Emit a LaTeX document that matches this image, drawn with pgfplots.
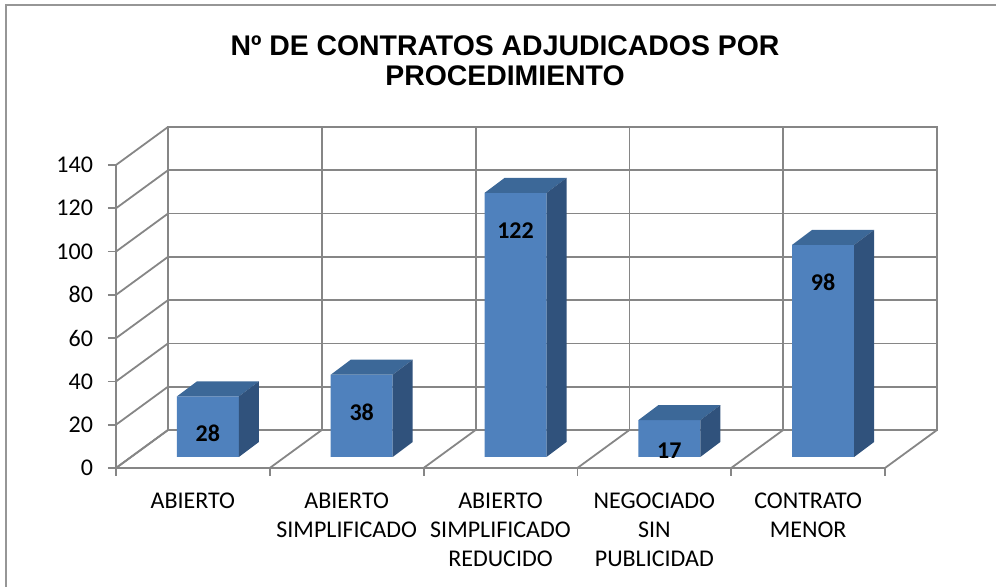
\documentclass[border=0pt]{standalone}
\usepackage{fontspec}
\setmainfont{Carlito}
\newfontfamily\titlefont{Liberation Sans}
\usepackage{pgfplots}
\pgfplotsset{compat=1.18}
\definecolor{barfront}{HTML}{4F81BD}
\definecolor{bartop}{HTML}{3C6898}
\definecolor{barside}{HTML}{30527C}
\definecolor{gridc}{RGB}{134,134,134}
\definecolor{framec}{RGB}{150,150,150}

\pgfdeclareplotmark{cube3d}{%
  \pgfmathsetlengthmacro{\hh}{\barval*1.082143pt}%
  \pgfsetfillcolor{bartop}%
  \pgfpathmoveto{\pgfpoint{-15.5pt}{0pt}}%
  \pgfpathlineto{\pgfpoint{15.5pt}{0pt}}%
  \pgfpathlineto{\pgfpoint{25.5pt}{7.5pt}}%
  \pgfpathlineto{\pgfpoint{-5.5pt}{7.5pt}}%
  \pgfpathclose
  \pgfusepath{fill}%
  \pgfsetfillcolor{barside}%
  \pgfpathmoveto{\pgfpoint{15.5pt}{0pt}}%
  \pgfpathlineto{\pgfpoint{25.5pt}{7.5pt}}%
  \pgfpathlineto{\pgfpoint{25.5pt}{7.5pt-\hh}}%
  \pgfpathlineto{\pgfpoint{15.5pt}{-\hh}}%
  \pgfpathclose
  \pgfusepath{fill}%
}

\pgfplotstableread{
x y
0 28
1 38
2 122
3 17
4 98
}\contratos

\begin{document}
\begin{tikzpicture}
% back wall + side/floor grid
\begin{axis}[at={(84pt,78.5pt)}, anchor=south west, scale only axis,
  width=384.5pt, height=151.5pt,
  xmin=-0.5, xmax=4.5, ymin=0, ymax=140,
  xtick={-0.5,0.5,...,4.5}, ytick={0,20,...,140},
  xticklabels={}, yticklabels={}, major tick length=0pt,
  grid=major, grid style={gridc, line width=0.9pt},
  axis line style={gridc, line width=0.9pt}, clip=false]
\pgfplotsinvokeforeach{0,20,...,140}{
  \draw[gridc, line width=0.9pt] (axis cs:-0.5,#1) -- ++(-26pt,-19pt);
}
\pgfplotsinvokeforeach{-0.5,0.5,...,4.5}{
  \draw[gridc, line width=0.9pt] (axis cs:#1,0) -- ++(-26pt,-19pt);
}
\end{axis}
% bars
\begin{axis}[at={(65.5pt,65pt)}, anchor=south west, scale only axis,
  width=384.5pt, height=151.5pt,
  xmin=-0.5, xmax=4.5, ymin=0, ymax=140, hide axis, clip=false]
\addplot[only marks, mark=cube3d, visualization depends on={rawy \as \barval}]
  table[x=x, y=y] {\contratos};
\addplot[ybar, bar width=31pt, fill=barfront, draw=none] table[x=x, y=y] {\contratos};
\addplot[draw=none, nodes near coords, point meta=explicit symbolic,
  every node near coord/.style={anchor=center, text=black,
    font=\fontsize{12}{14}\selectfont\bfseries}]
  coordinates {(0,11.1)[28] (1,20.8)[38] (2,104.4)[122] (3,2.8)[17] (4,80.9)[98]};
\end{axis}
% front axis
\begin{axis}[at={(58pt,59.5pt)}, anchor=south west, scale only axis,
  width=384.5pt, height=151.5pt,
  xmin=-0.5, xmax=4.5, ymin=0, ymax=140,
  axis x line*=bottom, axis y line*=left,
  axis line style={gridc, line width=0.9pt},
  every tick/.style={gridc, line width=0.9pt},
  tick align=outside, major tick length=4pt,
  ytick={0,20,...,140},
  xtick={-0.5,0.5,...,4.5}, xticklabels={},
  extra x ticks={0,1,2,3,4},
  extra x tick labels={ABIERTO,{ABIERTO\\SIMPLIFICADO},{ABIERTO\\SIMPLIFICADO\\REDUCIDO},{NEGOCIADO\\SIN\\PUBLICIDAD},{CONTRATO\\MENOR}},
  extra x tick style={major tick length=0pt},
  xticklabel style={align=center, text=black, yshift=-9pt, font=\fontsize{12}{14.5}\selectfont},
  yticklabel style={text=black, xshift=-4pt, font=\fontsize{12}{14}\selectfont},
  /pgf/number format/assume math mode=true]
\end{axis}
\node[font={\titlefont\fontsize{14.2}{15}\selectfont\bfseries}, align=center]
  at (252.5pt,263pt) {Nº DE CONTRATOS ADJUDICADOS POR\\PROCEDIMIENTO};
\draw[framec, line width=1pt] (3pt,-2pt) -- (3pt,291pt) -- (500pt,291pt);
\pgfresetboundingbox
\useasboundingbox (0,0) rectangle (498pt,293.5pt);
\end{tikzpicture}
\end{document}
